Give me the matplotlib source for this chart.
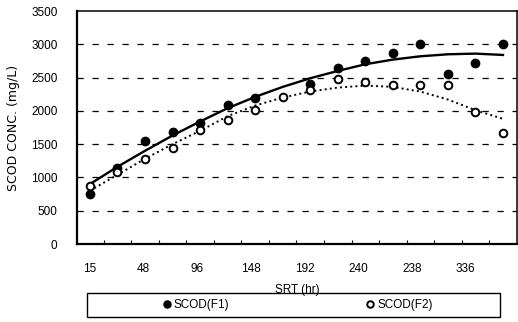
import numpy as np
import matplotlib.pyplot as plt
from matplotlib.patches import Rectangle

plt.rcParams['font.family'] = ['Liberation Sans', 'DejaVu Sans']
plt.rcParams['font.size'] = 8

# SRT categories (one per sampling), labels shown on every second one
srt_labels = ['15', '48', '96', '148', '192', '240', '238', '336']

scod_f1 = [745, 1145, 1540, 1680, 1820, 2085, 2195, np.nan,
           2410, 2650, 2750, 2875, 3010, 2560, 2725, 3010]
scod_f2 = [870, 1080, 1270, 1445, 1720, 1860, 2010, 2210,
           2310, 2485, 2435, 2395, 2385, 2385, 1985, 1670]

# trend lines drawn in the figure
trend_f1 = [900, 1160, 1400, 1630, 1840, 2040, 2210, 2360,
            2490, 2600, 2700, 2770, 2820, 2850, 2860, 2840]
trend_f2 = [800, 1040, 1280, 1500, 1700, 1920, 2080, 2200,
            2290, 2350, 2380, 2360, 2290, 2170, 2010, 1880]

idx = np.arange(len(scod_f1))

fig = plt.figure(figsize=(5.18, 3.22), dpi=100)
ax = fig.add_axes([0.1486, 0.2422, 0.849, 0.7236])

# dashed horizontal grid
for yv in range(500, 3500, 500):
    ax.axhline(yv, color='black', lw=0.9, ls=(0, (5, 7)), zorder=0)

ax.plot(idx, trend_f1, '-', color='black', lw=1.7, zorder=2)
ax.plot(idx, trend_f2, ':', color='black', lw=1.4, zorder=2)
ax.plot(idx, scod_f1, 'o', color='black', ms=6, ls='none',
        label='SCOD(F1)', zorder=3)
ax.plot(idx, scod_f2, 'o', mfc='white', mec='black', mew=1.4, ms=5.5,
        ls='none', label='SCOD(F2)', zorder=3)

ax.set_xlim(-0.47, 15.5)
ax.set_ylim(0, 3500)
ax.set_yticks(range(0, 3501, 500))
# printed labels drift slightly left of the sample positions
ax.set_xticks(idx[::2] * 0.975)
ax.set_xticklabels(srt_labels)
ax.set_xticks(idx[:-1] + 0.5, minor=True)
ax.tick_params(axis='x', which='major', length=0, pad=14, labelsize=8.5)
ax.tick_params(axis='x', which='minor', direction='in', length=3, width=0.8)
ax.tick_params(axis='y', length=0, pad=14, labelsize=8.5)

for side in ['left', 'bottom']:
    ax.spines[side].set_linewidth(1.6)
for side in ['top', 'right']:
    ax.spines[side].set_linewidth(1.1)

ax.set_xlabel('SRT (hr)', fontsize=8.5, labelpad=6)
ax.set_ylabel('SCOD CONC. (mg/L)', fontsize=9, family=['DejaVu Sans'],
              labelpad=8)

# legend box below the plot
fig.patches.append(Rectangle((87 / 518, 1 - 317 / 322), 413 / 518, 24 / 322,
                             transform=fig.transFigure, fill=False,
                             edgecolor='black', lw=1.0))
fig.legend(loc='center', bbox_to_anchor=(0.574, 0.053), ncol=2,
           frameon=False, handletextpad=0.2, columnspacing=11.5,
           fontsize=8.5, handlelength=0.8, markerscale=0.85)

fig.savefig('out.png', dpi=100)
